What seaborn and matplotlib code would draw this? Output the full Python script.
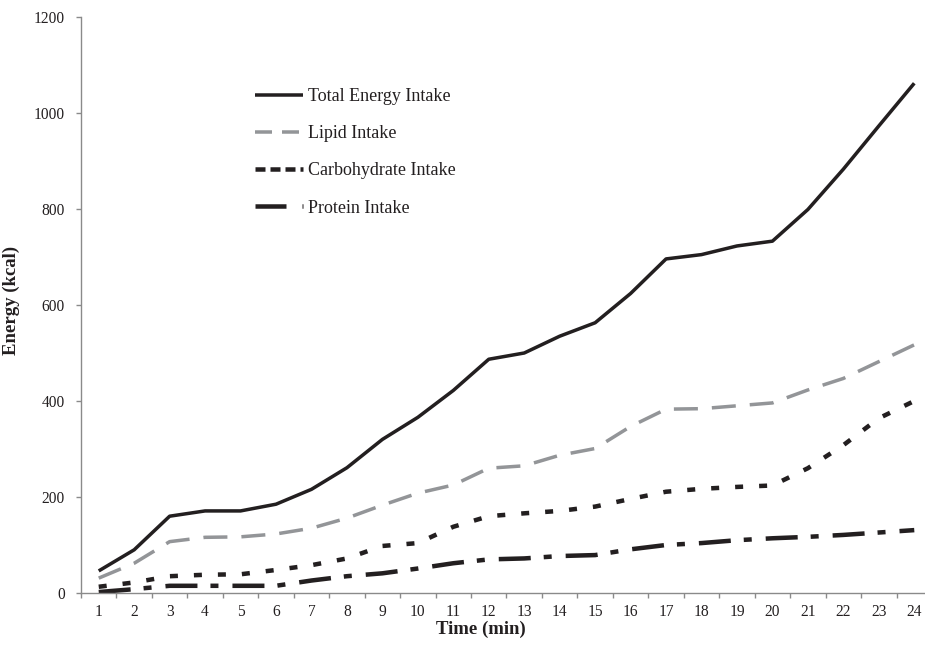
import numpy as np
import pandas as pd
import matplotlib
matplotlib.use("Agg")
import matplotlib.pyplot as plt
from matplotlib.lines import Line2D
import seaborn as sns

# valeurs
time_min = list(range(1, 25))
total = [46, 90, 160, 171, 171, 185, 216, 261, 320, 366, 422, 487,
         500, 535, 563, 624, 696, 705, 723, 733, 799, 883, 973, 1062]
lipid = [31, 62, 107, 116, 117, 123, 135, 156, 183, 208, 225, 260,
         265, 287, 301, 347, 383, 384, 390, 396, 423, 447, 482, 517]
carb = [13, 22, 35, 38, 39, 48, 58, 72, 98, 104, 138, 160,
        166, 171, 180, 196, 211, 217, 221, 224, 260, 308, 364, 400]
protein = [2, 8, 15, 15, 15, 15, 26, 35, 41, 51, 62, 70,
           72, 77, 79, 91, 100, 104, 110, 114, 117, 121, 126, 131]

names = ["Total Energy Intake", "Lipid Intake", "Carbohydrate Intake", "Protein Intake"]
series = [total, lipid, carb, protein]

df = pd.DataFrame({
    "time": np.tile(time_min, 4),
    "energy": np.concatenate(series),
    "series": np.repeat(names, 24),
})

black = "#231f20"
gray = "#939598"
px = 0.72  # 1 px en points (dpi 100)

lw_px = {names[0]: 3.5, names[1]: 3.5, names[2]: 4.5, names[3]: 4.5}
palette = {names[0]: black, names[1]: gray, names[2]: black, names[3]: black}
# motifs en px, convertis en unités de largeur de trait
pat_px = {names[0]: None, names[1]: (24, 14), names[2]: (8, 16), names[3]: (32, 13, 8, 14)}
dashes = {}
for n in names:
    dashes[n] = "" if pat_px[n] is None else tuple(v / lw_px[n] for v in pat_px[n])
sizes = {n: lw_px[n] * px for n in names}

sns.set_style("ticks")
plt.rcParams["font.family"] = ["Liberation Serif", "DejaVu Serif"]

fig = plt.figure(figsize=(9.25, 6.48), dpi=100)
ax = fig.add_axes([81 / 925, 55 / 648, 851 / 925, 576 / 648])

sns.lineplot(data=df, x="time", y="energy", hue="series", style="series",
             size="series", palette=palette, dashes=dashes, sizes=sizes,
             hue_order=names, style_order=names, size_order=names,
             legend=False, ax=ax)
for line in ax.lines:
    line.set_dash_capstyle("butt")
    line.set_solid_capstyle("butt")

ax.set_xlim(0.5, 24.5)
ax.set_ylim(0, 1200)
ax.set_yticks(range(0, 1201, 200))
ax.set_xticks(time_min)
ax.set_xticks(np.arange(0.5, 24.6, 1), minor=True)

sns.despine(ax=ax)
for s in ["left", "bottom"]:
    ax.spines[s].set_color("#8a8a8a")
    ax.spines[s].set_linewidth(1.0)

ax.tick_params(axis="x", which="major", length=0, pad=8, labelsize=11.2, labelcolor=black)
ax.tick_params(axis="x", which="minor", length=5 * px, width=1.0, color="#8a8a8a", direction="out")
ax.tick_params(axis="y", which="major", length=5 * px, width=1.0, color="#8a8a8a",
               pad=8, labelsize=11.2, labelcolor=black)

ax.set_xlabel("Time (min)", fontsize=13.5, fontweight="bold", color=black)
ax.set_ylabel("Energy (kcal)", fontsize=13.5, fontweight="bold", color=black)
ax.xaxis.set_label_coords((481 - 81) / 851, (593 - 621) / 576)
ax.yaxis.set_label_coords((20 - 81) / 851, (593 - 300) / 576)

# légende avec les motifs de l'original
leg_pat_px = [None, (17, 10), (10, 5), (31, 16, 1.5, 20)]
handles = []
for n, pp in zip(names, leg_pat_px):
    h = Line2D([0], [0], color=palette[n], lw=lw_px[n] * px, solid_capstyle="butt",
               dash_capstyle="butt")
    if pp is not None:
        h.set_dashes(tuple(v / lw_px[n] for v in pp))
    handles.append(h)
ax.legend(handles, names, loc="upper left", bbox_to_anchor=(255 / 925, (648 - 88) / 648),
          bbox_transform=fig.transFigure, frameon=False, fontsize=13,
          handlelength=2.66, handletextpad=0.25, labelspacing=1.12,
          borderpad=0, borderaxespad=0, labelcolor=black)

fig.savefig("out.png", dpi=100)
